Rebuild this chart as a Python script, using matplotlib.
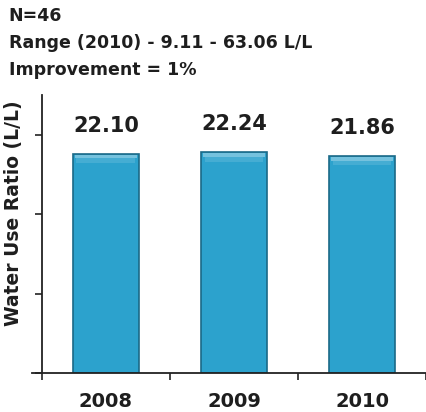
import matplotlib.pyplot as plt

# water use ratio per year
years = ['2008', '2009', '2010']
ratios = [22.10, 22.24, 21.86]
header = ['N=46', 'Range (2010) - 9.11 - 63.06 L/L', 'Improvement = 1%']

text_color = '#1e1e1e'
bar_color = '#2ca2cd'
edge_color = '#1b6987'

plt.rcParams['font.family'] = 'DejaVu Sans'
plt.rcParams['font.weight'] = 'bold'

fig = plt.figure(figsize=(4.27, 4.12), dpi=100)
ax = fig.add_axes([0.098, 0.095, 0.9, 0.674])

x = range(len(years))
bars = ax.bar(x, ratios, width=0.51, color=bar_color, edgecolor=edge_color, linewidth=1.2, zorder=2)

# bevel highlight along the top of each bar
for b in bars:
    top = b.get_height()
    cx = b.get_x() + b.get_width() / 2
    ax.bar(cx, 0.35, bottom=top - 0.45, width=b.get_width() * 0.94,
           color='white', alpha=0.35, linewidth=0, zorder=3)
    ax.bar(cx, 0.5, bottom=top - 0.95, width=b.get_width() * 0.9,
           color='white', alpha=0.12, linewidth=0, zorder=3)

for xi, v in zip(x, ratios):
    ax.annotate(f'{v:.2f}', (xi, v), xytext=(0, 13), textcoords='offset points',
                ha='center', va='bottom', fontsize=15, fontweight='bold', color=text_color)

ax.set_xlim(-0.5, 2.5)
ax.set_ylim(0, 28)
ax.set_yticks([0, 8, 16, 24])
ax.set_yticklabels([])
ax.set_xticks([-0.5, 0.5, 1.5, 2.5])
ax.set_xticklabels([])
ax.set_xticks(list(x), minor=True)
ax.set_xticklabels(years, minor=True, fontsize=14, fontweight='bold', color=text_color)
ax.tick_params(axis='x', which='minor', length=0, pad=14)
ax.tick_params(axis='both', which='major', direction='out', length=5, width=1.2, color='#222222')

for s in ['top', 'right']:
    ax.spines[s].set_visible(False)
for s in ['left', 'bottom']:
    ax.spines[s].set_linewidth(1.3)
    ax.spines[s].set_color('#222222')

# baseline runs a little past the y axis on the left
ax.plot([-0.025, 0], [0, 0], transform=ax.transAxes, color='#222222', lw=1.3, clip_on=False)

ax.set_ylabel('Water Use Ratio (L/L)', fontsize=13.5, fontweight='bold', color=text_color)
ax.yaxis.set_label_coords(-0.05, 0.575)

for i, line in enumerate(header):
    fig.text(0.02, 0.962 - i * 0.066, line, fontsize=12.5, fontweight='bold', color=text_color,
             va='center', ha='left')

fig.savefig('out.png', dpi=100)
